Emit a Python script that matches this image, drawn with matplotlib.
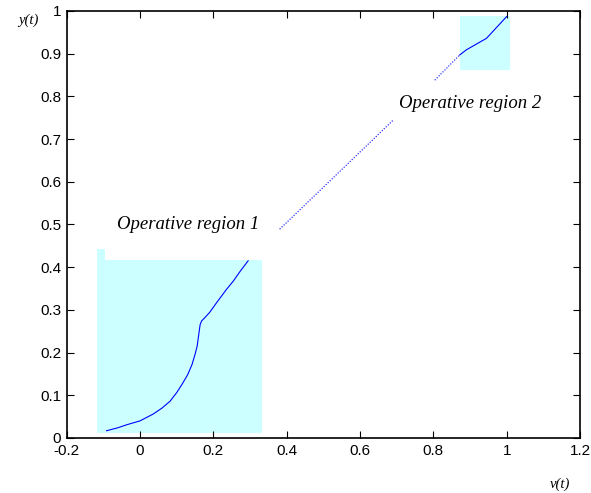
import matplotlib.pyplot as plt
import numpy as np

# operative region 1 (shaded area, with small step at the left)
reg1_x = [-0.117, -0.117, -0.095, -0.095, 0.332, 0.332]
reg1_y = [0.012, 0.443, 0.443, 0.416, 0.416, 0.012]
# operative region 2
reg2_x = [0.872, 1.008]
reg2_y = [0.861, 0.988]

# measured curve in region 1
c1_x = [-0.091, -0.060, -0.036, 0.0, 0.036, 0.060, 0.082, 0.100, 0.115, 0.130, 0.142,
        0.150, 0.156, 0.160, 0.164, 0.168, 0.175, 0.190, 0.210, 0.236, 0.255, 0.273, 0.295]
c1_y = [0.017, 0.024, 0.031, 0.040, 0.056, 0.070, 0.086, 0.106, 0.126, 0.148, 0.172,
        0.195, 0.215, 0.240, 0.265, 0.274, 0.280, 0.294, 0.318, 0.348, 0.368, 0.390, 0.415]
# measured curve in region 2
c2_x = [0.872, 0.890, 0.945, 1.0]
c2_y = [0.897, 0.909, 0.936, 0.987]
# dotted link between the regions
d1_x = [0.381, 0.690]
d1_y = [0.489, 0.744]
d2_x = [0.804, 0.872]
d2_y = [0.838, 0.897]

xticks = [-0.2, 0, 0.2, 0.4, 0.6, 0.8, 1, 1.2]
xlabels = ['-0.2', '0', '0.2', '0.4', '0.6', '0.8', '1', '1.2']
yticks = [0, 0.1, 0.2, 0.3, 0.4, 0.5, 0.6, 0.7, 0.8, 0.9, 1]
ylabels = ['0', '0.1', '0.2', '0.3', '0.4', '0.5', '0.6', '0.7', '0.8', '0.9', '1']

plt.rcParams['font.family'] = 'Liberation Sans'
fig = plt.figure(figsize=(5.91, 4.93), dpi=100)
ax = fig.add_axes([0.1127, 0.1116, 0.8687, 0.8661])

cyan = '#ccffff'
ax.fill(reg1_x, reg1_y, color=cyan, lw=0)
ax.fill_between(reg2_x, reg2_y[0], reg2_y[1], color=cyan, lw=0)

ax.plot(c1_x, c1_y, color='#0000ff', lw=0.8)
ax.plot(c2_x, c2_y, color='#0000ff', lw=0.8)
ax.plot(d1_x, d1_y, color='#0000ff', lw=0.8, ls=(0, (1, 1.5)))
ax.plot(d2_x, d2_y, color='#0000ff', lw=0.8, ls=(0, (1, 1.5)))

ax.text(-0.063, 0.489, 'Operative region 1', family='Liberation Serif', style='italic', fontsize=13.5)
ax.text(0.706, 0.772, 'Operative region 2', family='Liberation Serif', style='italic', fontsize=13.5)

ax.set_xlim(-0.2, 1.2)
ax.set_ylim(0, 1)
ax.set_xticks(xticks)
ax.set_xticklabels(xlabels)
ax.set_yticks(yticks)
ax.set_yticklabels(ylabels)
ax.tick_params(direction='in', top=True, right=True, length=5, labelsize=11, pad=4)
for s in ax.spines.values():
    s.set_linewidth(1.2)

fig.text(18 / 591, 1 - 20 / 493, 'y(t)', family='Liberation Serif', style='italic', fontsize=10.5,
         ha='left', va='center')
fig.text(550 / 591, 1 - 484 / 493, 'v(t)', family='Liberation Serif', style='italic', fontsize=10.5,
         ha='left', va='center')

fig.savefig('out.png', dpi=100)
